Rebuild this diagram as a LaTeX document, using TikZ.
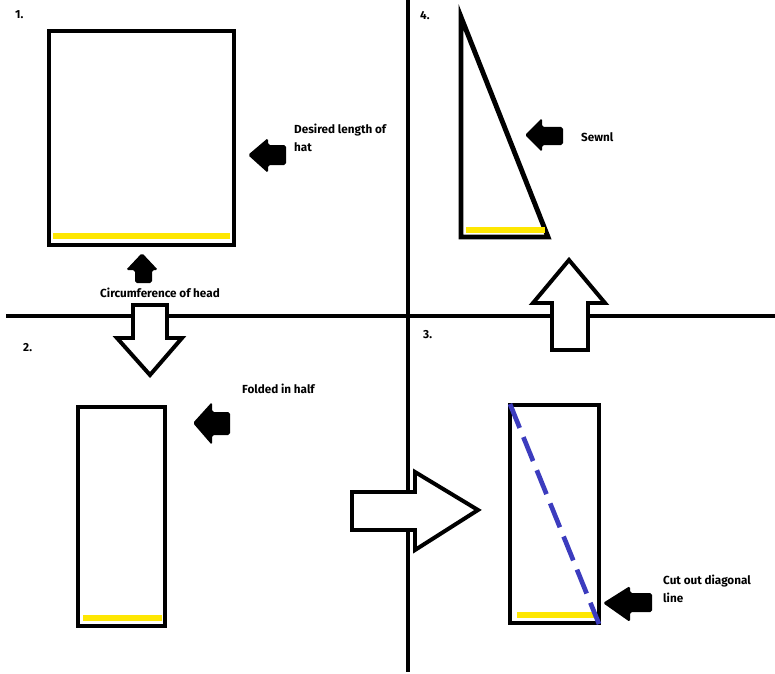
\documentclass[tikz,border=0pt]{standalone}
\usepackage{fontspec}
\setmainfont{Fira Sans}
\begin{document}
\begin{tikzpicture}[x=0.03cm, y=-0.03cm,
  every node/.style={font=\fontsize{10}{15.5}\selectfont\bfseries, inner sep=0pt},
  divider/.style={line width=3.4pt},
  piece/.style={line width=4.2pt, line join=miter},
  hem/.style={line width=4.3pt, yellow!90!orange},
  cut/.style={line width=4pt, color={rgb,255:red,60;green,60;blue,190}, dash pattern=on 22pt off 8.5pt},
  pointer/.style={fill=black, rounded corners=1.5pt},
  stepbox/.style={draw=black, fill=white, line width=3.4pt, line join=miter}]

  \useasboundingbox (0,0) rectangle (775,674);

  % quarter lines
  \draw[divider] (6,316) -- (775,316);
  \draw[divider] (408,0) -- (408,672);

  % 1. the whole piece
  \draw[piece] (49,31) rectangle (234,245);
  \draw[hem] (53,236) -- (230,236);
  \node[anchor=north west] (n1) at (15,10) {1.};
  \fill[pointer] (248,155) -- (268,138) -- (268,145) -- (286,145) -- (286,165) -- (268,165) -- (268,173) -- cycle;
  \node[anchor=north west, align=left] (len) at (294,124) {Desired length of\\hat};
  \fill[pointer] (142,253) -- (158,270) -- (152,270) -- (152,283) -- (135,283) -- (135,270) -- (126,270) -- cycle;
  \node (circ) at (160,293) {Circumference of head};

  % 1 -> 2
  \draw[stepbox] (133,305) -- (167,305) -- (167,338) -- (182,338) -- (150,375) -- (117,338) -- (133,338) -- cycle;

  % 2. folded
  \draw[piece] (78,407) rectangle (165,626);
  \draw[hem] (83,618) -- (162,618);
  \node[anchor=north west] (n2) at (23,343) {2.};
  \fill[pointer] (193,423) -- (212,402) -- (212,412) -- (230,412) -- (230,435) -- (212,435) -- (212,445) -- cycle;
  \node[anchor=north west] (fold) at (242,384) {Folded in half};

  % 2 -> 3
  \draw[stepbox] (352,492) -- (415,492) -- (415,472) -- (478,510) -- (415,550) -- (415,530) -- (352,530) -- cycle;

  % 3. cut along the diagonal
  \draw[piece] (510,405) rectangle (599,623);
  \draw[hem] (517,615) -- (595,615);
  \draw[cut] (510,404) -- (599,624);
  \node[anchor=north west] (n3) at (423,330) {3.};
  \fill[pointer] (603,603) -- (630,586) -- (630,593) -- (652,593) -- (652,612) -- (630,612) -- (630,622) -- cycle;
  \node[anchor=north west, align=left] (diag) at (663,575) {Cut out diagonal\\line};

  % 3 -> 4
  \draw[stepbox] (552,350) -- (552,303) -- (533,303) -- (569,260) -- (605,303) -- (588,303) -- (588,350) -- cycle;

  % 4. sewn
  \draw[piece] (461,17) -- (461,237) -- (548,237) -- cycle;
  \draw[hem] (466,230) -- (545,230);
  \node[anchor=north west] (n4) at (420,11) {4.};
  \fill[pointer] (525,135) -- (542,118) -- (542,127) -- (563,127) -- (563,145) -- (542,145) -- (542,152) -- cycle;
  \node[anchor=north west] (sewn) at (581,132) {Sewnl};
\end{tikzpicture}
\end{document}
